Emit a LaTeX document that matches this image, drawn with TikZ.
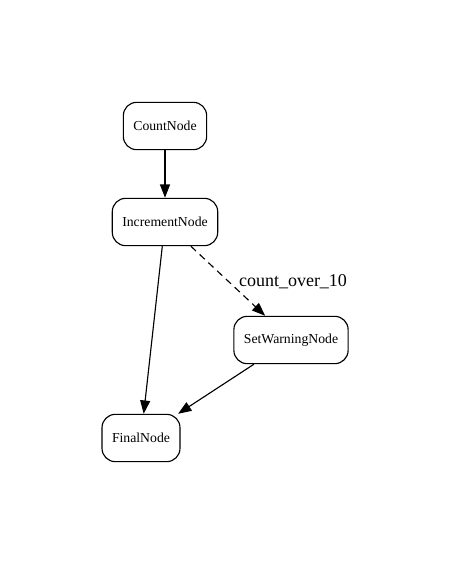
\documentclass[tikz,border=0pt]{standalone}
\usepackage{fontspec}
\setmainfont{Liberation Serif}
\usetikzlibrary{arrows.meta}
\tikzset{
  flownode/.style={draw, line width=0.85pt, rounded corners=10pt, minimum height=35.5pt, inner xsep=7.5pt, font=\fontsize{10.3}{12}\selectfont},
  flowedge/.style={line width=0.85pt, -{Triangle[length=10pt,width=7.5pt]}}
}
\begin{document}
\begin{tikzpicture}[x=0.75pt, y=-0.75pt]
\useasboundingbox (0,0) rectangle (450,563);
% Nodes
\node[flownode] (count) at (165,126) {CountNode};
\node[flownode] (incr) at (165,222) {IncrementNode};
\node[flownode] (warn) at (291,340) {SetWarningNode};
\node[flownode] (final) at (141,438) {FinalNode};
% Edges
\draw[flowedge] (count) -- (incr);
\draw[flowedge, dash pattern=on 5.25pt off 3.75pt] (incr) -- (warn);
\draw[flowedge] (incr) -- (final);
\draw[flowedge] (warn) -- (final);
% Edge label
\node[font=\fontsize{13.5}{15}\selectfont] (overlabel) at (293,282) {count\_over\_10};
\end{tikzpicture}
\end{document}
